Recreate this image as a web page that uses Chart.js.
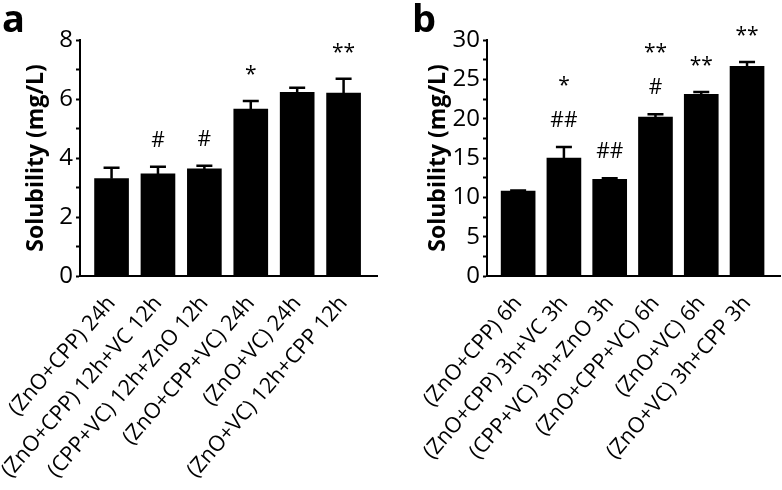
<!DOCTYPE html>
<html>
<head>
<meta charset="utf-8">
<script src="https://cdn.jsdelivr.net/npm/chart.js@4/dist/chart.umd.min.js"></script>
<style>
  html, body { margin: 0; padding: 0; background: #fff; }
  .panel { position: absolute; top: 0; height: 490px; }
  #panelA { left: 0; width: 390px; }
  #panelB { left: 390px; width: 392px; }
</style>
</head>
<body>
<div class="panel" id="panelA"><canvas id="chartA"></canvas></div>
<div class="panel" id="panelB"><canvas id="chartB"></canvas></div>
<script>
// Panel a data
const catsA = ["(ZnO+CPP) 24h", "(ZnO+CPP) 12h+VC 12h", "(CPP+VC) 12h+ZnO 12h", "(ZnO+CPP+VC) 24h", "(ZnO+VC) 24h", "(ZnO+VC) 12h+CPP 12h"];
const meanA = [3.3, 3.46, 3.63, 5.66, 6.23, 6.2];
const errA = [0.37, 0.24, 0.11, 0.27, 0.15, 0.49];
const marksA = [[], ["#"], ["#"], ["*"], [], ["**"]];
const yTicksA = [0, 2, 4, 6, 8];

// Panel b data
const catsB = ["(ZnO+CPP) 6h", "(ZnO+CPP) 3h+VC 3h", "(CPP+VC) 3h+ZnO 3h", "(ZnO+CPP+VC) 6h", "(ZnO+VC) 6h", "(ZnO+VC) 3h+CPP 3h"];
const meanB = [10.8, 15.0, 12.3, 20.2, 23.1, 26.65];
const errB = [0.08, 1.4, 0.12, 0.35, 0.3, 0.55];
const marksB = [[], ["*", "##"], ["##"], ["**", "#"], ["**"], ["**"]];
const yTicksB = [0, 5, 10, 15, 20, 25, 30];

const yTitle = "Solubility (mg/L)";

Chart.defaults.font.family = "'Open Sans', sans-serif";
Chart.defaults.color = "#000";

// error bars, significance marks and panel letter
const extras = {
  id: "extras",
  afterDatasetsDraw(chart, args, opts) {
    const ctx = chart.ctx;
    const y = chart.scales.y;
    const meta = chart.getDatasetMeta(0);
    ctx.save();
    ctx.strokeStyle = "#000";
    ctx.fillStyle = "#000";
    ctx.lineWidth = 2.5;
    meta.data.forEach(function (bar, i) {
      const top = y.getPixelForValue(opts.means[i] + opts.errs[i]);
      const base = y.getPixelForValue(opts.means[i]);
      ctx.beginPath();
      ctx.moveTo(bar.x, base);
      ctx.lineTo(bar.x, top);
      ctx.moveTo(bar.x - 8, top);
      ctx.lineTo(bar.x + 8, top);
      ctx.stroke();

      ctx.font = "21px 'Open Sans'";
      ctx.textAlign = "center";
      ctx.textBaseline = "alphabetic";
      const lines = opts.marks[i].slice().reverse();
      lines.forEach(function (txt, k) {
        ctx.fillText(txt, bar.x, top - 20 - k * 35);
      });
    });
    ctx.font = "bold 38px 'Open Sans'";
    ctx.textAlign = "left";
    ctx.fillText(opts.letter, opts.letterX, 32);
    ctx.restore();
  },
};

function makeChart(id, cats, means, errs, marks, yTicks, minorStep, axisWidth, titlePad, rightPad, letter, letterX) {
  const yMax = yTicks[yTicks.length - 1];
  return new Chart(document.getElementById(id), {
    type: "bar",
    data: {
      datasets: [
        {
          data: means.map((v, i) => ({ x: i + 1, y: v })),
          backgroundColor: "#000",
          borderWidth: 0,
          barThickness: 34,
        },
      ],
    },
    options: {
      responsive: true,
      maintainAspectRatio: false,
      animation: false,
      layout: { padding: { top: 40, left: 0, right: rightPad, bottom: 0 } },
      plugins: {
        legend: { display: false },
        tooltip: { enabled: false },
        extras: { means: means, errs: errs, marks: marks, letter: letter, letterX: letterX },
      },
      scales: {
        x: {
          type: "linear",
          offset: false,
          min: 0.32,
          max: 6.72,
          afterBuildTicks: (s) => {
            s.ticks = cats.map((c, i) => ({ value: i + 1 }));
          },
          afterFit: (s) => {
            s.height = 214;
            s.paddingLeft = 0;
            s.paddingRight = 0;
          },
          grid: { display: false, drawTicks: false, offset: false },
          border: { display: true, color: "#000", width: 2 },
          ticks: {
            autoSkip: false,
            minRotation: 49,
            maxRotation: 49,
            padding: 15,
            font: { size: 21.5 },
            callback: (v) => cats[Math.round(v) - 1],
          },
        },
        y: {
          min: 0,
          max: yMax,
          afterFit: (s) => {
            s.width = axisWidth;
          },
          grid: {
            drawOnChartArea: false,
            drawTicks: true,
            tickLength: 4,
            color: "#000",
            tickWidth: 2,
          },
          border: { display: true, color: "#000", width: 2 },
          ticks: {
            stepSize: minorStep,
            autoSkip: false,
            padding: 3,
            font: { size: 24 },
            callback: (v) => (yTicks.includes(v) ? v : ""),
          },
          title: {
            display: true,
            text: yTitle,
            font: { size: 23, weight: "bold" },
            padding: { top: titlePad, bottom: 0 },
          },
        },
      },
    },
    plugins: [extras],
  });
}

makeChart("chartA", catsA, meanA, errA, marksA, yTicksA, 1, 80, 23, 13, "a", 2);
makeChart("chartB", catsB, meanB, errB, marksB, yTicksB, 2.5, 97, 35, 2, "b", 22);
</script>
</body>
</html>
